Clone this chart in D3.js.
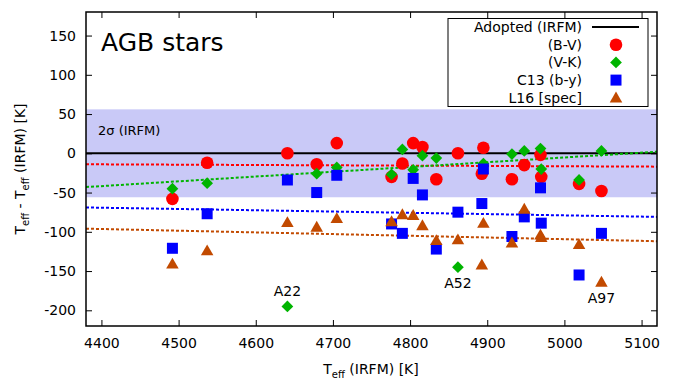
<!DOCTYPE html>
<html>
<head>
<meta charset="utf-8">
<script src="https://cdn.jsdelivr.net/npm/d3@7"></script>
<style>
  html, body { margin: 0; padding: 0; background: #fff; }
  svg { display: block; }
  text { font-family: "DejaVu Sans", sans-serif; fill: #000; }
</style>
</head>
<body>
<svg id="chart" width="676" height="379"></svg>
<script>
// Teff of AGB stars: offsets of each method from the adopted IRFM values
const bvTeff   = [4492, 4537, 4641, 4679, 4705, 4776, 4790, 4804, 4816, 4834, 4862, 4895, 4893, 4932, 4948, 4969, 4970, 5019, 5048];
const bvDiff   = [-58, -12, 0, -14, 13, -30, -13, 13, 8, -33, 0, 7, -26, -33, -15, -2, -30, -39, -48];

const vkTeff   = [4492, 4537, 4641, 4679, 4705, 4776, 4790, 4804, 4816, 4834, 4862, 4895, 4932, 4948, 4969, 4970, 5019, 5048];
const vkDiff   = [-45, -38, -195, -26, -18, -27, 5, -21, -3, -6, -145, -13, -1, 3, 6, -20, -34, 3];

const c13Teff  = [4492, 4537, 4641, 4679, 4705, 4776, 4790, 4804, 4816, 4834, 4862, 4895, 4893, 4932, 4948, 4969, 4970, 5019, 5048];
const c13Diff  = [-121, -77, -34, -50, -28, -90, -102, -32, -53, -122, -75, -20, -64, -106, -81, -44, -89, -155, -102];

const l16Teff  = [4492, 4537, 4641, 4679, 4705, 4776, 4790, 4804, 4816, 4834, 4862, 4895, 4893, 4932, 4948, 4969, 4970, 5019, 5048];
const l16Diff  = [-141, -124, -88, -94, -83, -87, -78, -79, -92, -111, -110, -89, -142, -114, -71, -104, -107, -116, -164];

// linear fits, given by their end values across the plotted range
const fitEnds  = { bv: [-14, -17], vk: [-43, 2], c13: [-69, -81], l16: [-96, -112] };
const sigma2   = 56;

const labelled = [
  { name: "A22", teff: 4641, diff: -195, pos: "above" },
  { name: "A52", teff: 4862, diff: -145, pos: "below" },
  { name: "A97", teff: 5048, diff: -164, pos: "below" }
];

const xTicks = [4400, 4500, 4600, 4700, 4800, 4900, 5000, 5100];
const yTicks = [-200, -150, -100, -50, 0, 50, 100, 150];
const xDomain = [4380, 5120];
const yDomain = [-220, 180];

const colors = { bv: "#ff0000", vk: "#00b400", c13: "#0000ff", l16: "#c24a00" };

const svg = d3.select("#chart");
const margin = { left: 86, right: 19, top: 12, bottom: 53 };
const W = 676, H = 379;
const x = d3.scaleLinear().domain(xDomain).range([margin.left, W - margin.right]);
const y = d3.scaleLinear().domain(yDomain).range([H - margin.bottom, margin.top]);

const plot = svg.append("g");
svg.append("clipPath").attr("id", "clip")
  .append("rect").attr("x", x(xDomain[0])).attr("y", y(yDomain[1]))
  .attr("width", x(xDomain[1]) - x(xDomain[0])).attr("height", y(yDomain[0]) - y(yDomain[1]));
plot.attr("clip-path", "url(#clip)");

// 2-sigma band of the IRFM
plot.append("rect")
  .attr("x", x(xDomain[0])).attr("width", x(xDomain[1]) - x(xDomain[0]))
  .attr("y", y(sigma2)).attr("height", y(-sigma2) - y(sigma2))
  .attr("fill", "#c9c9f7");

svg.append("text").attr("x", 98).attr("y", 135)
  .attr("font-size", 13).text("2\u03c3 (IRFM)");

// adopted zero line
plot.append("line")
  .attr("x1", x(xDomain[0])).attr("x2", x(xDomain[1]))
  .attr("y1", y(0)).attr("y2", y(0))
  .attr("stroke", "#000").attr("stroke-width", 2);

// fit lines
Object.entries(fitEnds).forEach(([k, v]) => {
  plot.append("line")
    .attr("x1", x(xDomain[0])).attr("x2", x(xDomain[1]))
    .attr("y1", y(v[0])).attr("y2", y(v[1]))
    .attr("stroke", colors[k]).attr("stroke-width", 2)
    .attr("stroke-dasharray", "3,2");
});

const zip = (a, b) => a.map((t, i) => ({ t, d: b[i] }));

// markers
const sym = {
  bv:  d3.symbol().type(d3.symbolCircle).size(Math.PI * 6.3 * 6.3),
  vk:  d3.symbol().type(d3.symbolDiamond2).size(88),
  c13: d3.symbol().type(d3.symbolSquare).size(121),
  l16: d3.symbol().type(d3.symbolTriangle).size(68)
};

function drawSeries(key, tArr, dArr, dy) {
  plot.append("g").selectAll("path").data(zip(tArr, dArr)).join("path")
    .attr("d", sym[key])
    .attr("transform", p => `translate(${x(p.t)},${y(p.d) + (dy || 0)})`)
    .attr("fill", colors[key]);
}
drawSeries("bv", bvTeff, bvDiff);
drawSeries("vk", vkTeff, vkDiff);
drawSeries("c13", c13Teff, c13Diff);
drawSeries("l16", l16Teff, l16Diff, 1);

// star labels
svg.append("g").selectAll("text").data(labelled).join("text")
  .attr("x", p => x(p.teff))
  .attr("y", p => y(p.diff) + (p.pos === "above" ? -10 : 21))
  .attr("text-anchor", "middle").attr("font-size", 14)
  .text(p => p.name);

// axes with inward ticks on all four sides
const fmt = d => String(d);
const gx = svg.append("g").attr("transform", `translate(0,${y(yDomain[0])})`)
  .call(d3.axisBottom(x).tickValues(xTicks).tickFormat(fmt).tickSize(-6).tickPadding(12));
const gxt = svg.append("g").attr("transform", `translate(0,${y(yDomain[1])})`)
  .call(d3.axisTop(x).tickValues(xTicks).tickFormat("").tickSize(-6));
const gy = svg.append("g").attr("transform", `translate(${x(xDomain[0])},0)`)
  .call(d3.axisLeft(y).tickValues(yTicks).tickFormat(fmt).tickSize(-6).tickPadding(10));
const gyr = svg.append("g").attr("transform", `translate(${x(xDomain[1])},0)`)
  .call(d3.axisRight(y).tickValues(yTicks).tickFormat("").tickSize(-6));
[gx, gxt, gy, gyr].forEach(g => {
  g.select(".domain").remove();
  g.selectAll("line").attr("stroke", "#000").attr("stroke-width", 1);
  g.selectAll("text").attr("font-size", 14).attr("font-family", "DejaVu Sans, sans-serif").attr("fill", "#000");
});

// frame
svg.append("rect")
  .attr("x", x(xDomain[0])).attr("y", y(yDomain[1]))
  .attr("width", x(xDomain[1]) - x(xDomain[0])).attr("height", y(yDomain[0]) - y(yDomain[1]))
  .attr("fill", "none").attr("stroke", "#000").attr("stroke-width", 1.5);

// title inside the frame
svg.append("text").attr("x", 101).attr("y", 51)
  .attr("font-family", "Liberation Sans, Arial, sans-serif")
  .attr("font-size", 25).text("AGB stars");

// axis titles
const xt = svg.append("text").attr("x", 371).attr("y", 374)
  .attr("text-anchor", "middle").attr("font-size", 14);
xt.append("tspan").text("T");
xt.append("tspan").attr("font-size", 10).attr("dy", 4).text("eff");
xt.append("tspan").attr("dy", -4).text(" (IRFM) [K]");

const yt = svg.append("text").attr("transform", "translate(25,169) rotate(-90)")
  .attr("text-anchor", "middle").attr("font-size", 14);
yt.append("tspan").text("T");
yt.append("tspan").attr("font-size", 10).attr("dy", 4).text("eff");
yt.append("tspan").attr("dy", -4).text(" - T");
yt.append("tspan").attr("font-size", 10).attr("dy", 4).text("eff");
yt.append("tspan").attr("dy", -4).text(" (IRFM) [K]");

// legend
const legend = svg.append("g");
legend.append("rect").attr("x", 448).attr("y", 18.5).attr("width", 200).attr("height", 88)
  .attr("fill", "#fff").attr("stroke", "#000").attr("stroke-width", 1);
const legendItems = [
  { label: "Adopted (IRFM)", key: "line" },
  { label: "(B-V)", key: "bv" },
  { label: "(V-K)", key: "vk" },
  { label: "C13 (b-y)", key: "c13" },
  { label: "L16 [spec]", key: "l16" }
];
legendItems.forEach((it, i) => {
  const cy = 27 + i * 17.7;
  legend.append("text").attr("x", 582).attr("y", cy + 5)
    .attr("text-anchor", "end").attr("font-size", 14).text(it.label);
  if (it.key === "line") {
    legend.append("line").attr("x1", 592).attr("x2", 639).attr("y1", cy).attr("y2", cy)
      .attr("stroke", "#000").attr("stroke-width", 2);
  } else {
    legend.append("path").attr("d", sym[it.key])
      .attr("transform", `translate(616,${cy + (it.key === "l16" ? 1 : 0)})`)
      .attr("fill", colors[it.key]);
  }
});
</script>
</body>
</html>
